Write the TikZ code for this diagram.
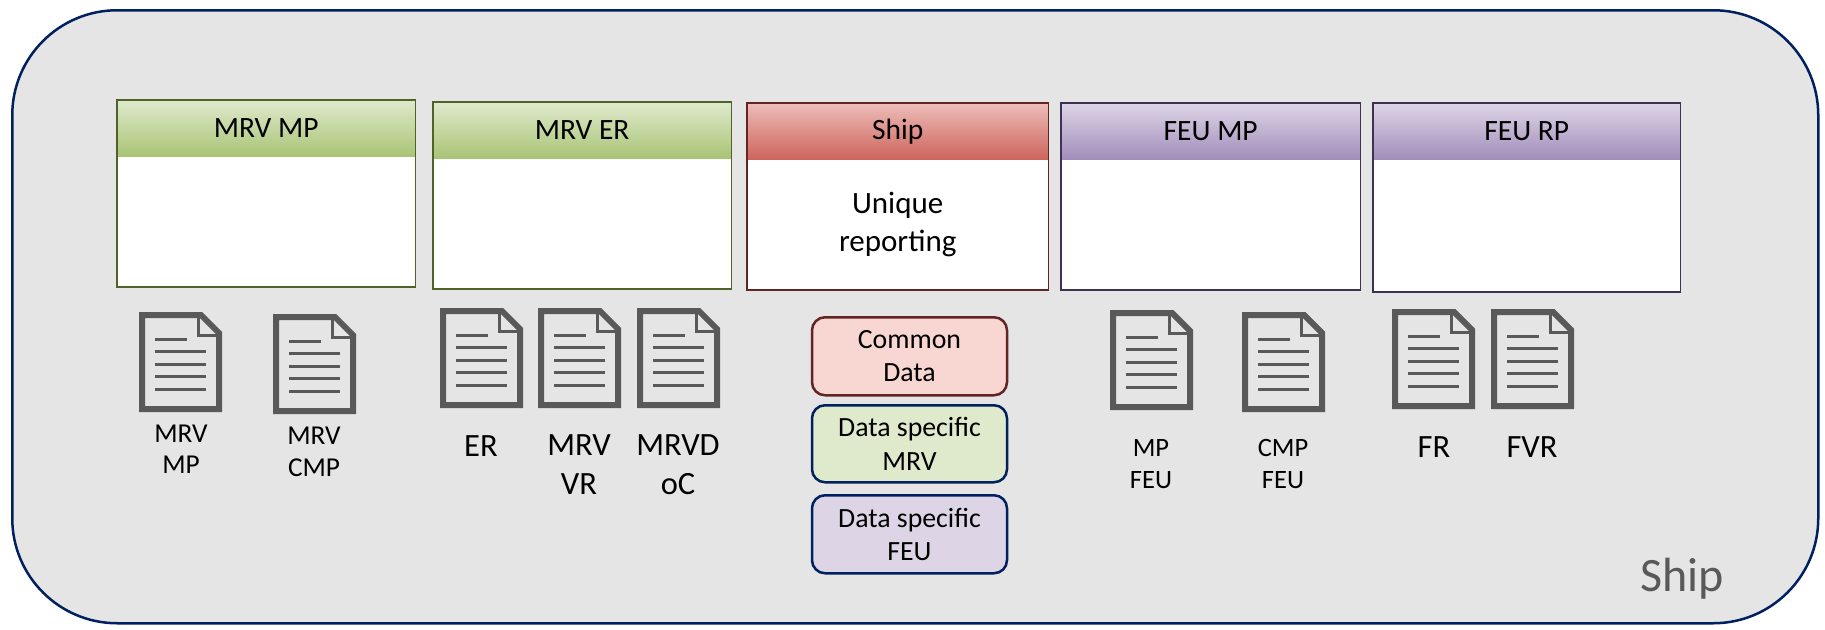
\documentclass[tikz,border=0pt]{standalone}
\usepackage{fontspec}
\setmainfont{Carlito}
\usetikzlibrary{positioning}
\usetikzlibrary{fit}
\definecolor{navyline}{HTML}{002060}
\definecolor{zonegray}{HTML}{E5E5E5}
\definecolor{icongray}{HTML}{595959}
\definecolor{greenline}{HTML}{4F6228}
\definecolor{greentop}{HTML}{DFE9CC}
\definecolor{greenbot}{HTML}{A9C475}
\definecolor{redline}{HTML}{632523}
\definecolor{redtop}{HTML}{EDBDB8}
\definecolor{redbot}{HTML}{CD645C}
\definecolor{redpale}{HTML}{F8D6D2}
\definecolor{purpleline}{HTML}{3F3151}
\definecolor{purpletop}{HTML}{DDD5E6}
\definecolor{purplebot}{HTML}{A28DBA}
\tikzset{
    zone/.style = {%
        shape=rectangle,
        draw=navyline,
        fill=zonegray,
        line width=2.5pt,
        rounded corners=105pt,
        inner sep=0pt},
    headbar/.style 2 args = {%
        shape=rectangle,
        top color=#1,
        bottom color=#2,
        inner sep=0pt,
        minimum height=56pt,
        align=center,
        font=\fontsize{29.5}{33}\selectfont},
    bodybox/.style = {%
        shape=rectangle,
        fill=white,
        inner sep=0pt,
        align=center,
        font=\fontsize{31}{38}\selectfont},
    frame/.style = {%
        shape=rectangle,
        draw=#1,
        line width=1.6pt,
        inner sep=0pt},
    pill/.style 2 args = {%
        shape=rectangle,
        rounded corners=13pt,
        draw=#1,
        fill=#2,
        line width=2.5pt,
        inner sep=0pt,
        minimum width=195pt,
        align=center,
        font=\fontsize{27.8}{33.5}\selectfont},
    doclabel/.style = {%
        inner sep=0pt,
        align=center,
        font=\fontsize{27.3}{31.5}\selectfont},
    doclabelbig/.style = {%
        inner sep=0pt,
        align=center,
        font=\fontsize{32.5}{39}\selectfont},
    doclabelsmall/.style = {%
        inner sep=0pt,
        align=center,
        font=\fontsize{26.5}{32}\selectfont},
    docicon/.pic = {
        \draw[icongray, line width=6pt, miter limit=4] (3,3) -- (62,3) -- (80,21) -- (80,97) -- (3,97) -- cycle;
        \draw[icongray, line width=3pt] (59,4) -- (59,23) -- (79,23);
        \foreach \y/\e in {27/48, 39.5/67, 52/67, 64.5/67, 77/67}
            \draw[icongray, line width=3pt] (16,\y) -- (\e,\y);
    },
}
\begin{document}
\begin{tikzpicture}[x=1pt, y=-1pt]
    \useasboundingbox (0,0) rectangle (1825,629);
    \node[zone, minimum width=1806pt, minimum height=613pt, anchor=north west] (shipzone) at (11,9) {};
    \node[text=icongray, inner sep=0pt, font=\fontsize{48}{50}\selectfont] (shiptag) at (1682,579) {Ship};

    % panels
    \node[headbar={greentop}{greenbot}, minimum width=298pt, anchor=north west] (mrvmphead) at (117,100) {MRV MP};
    \node[bodybox, minimum width=298pt, minimum height=130pt, below=0pt of mrvmphead] (mrvmpbody) {};
    \node[frame=greenline, fit=(mrvmphead)(mrvmpbody)] (mrvmpframe) {};

    \node[headbar={greentop}{greenbot}, minimum width=298pt, anchor=north west] (mrverhead) at (433,102) {MRV ER};
    \node[bodybox, minimum width=298pt, minimum height=130pt, below=0pt of mrverhead] (mrverbody) {};
    \node[frame=greenline, fit=(mrverhead)(mrverbody)] (mrverframe) {};

    \node[headbar={redtop}{redbot}, minimum width=301pt, anchor=north west] (shiphead) at (747,103) {Ship};
    \node[bodybox, minimum width=301pt, minimum height=130pt, below=0pt of shiphead] (shipbody) {Unique\\reporting};
    \node[frame=redline, fit=(shiphead)(shipbody)] (shipframe) {};

    \node[headbar={purpletop}{purplebot}, minimum width=299pt, anchor=north west] (feumphead) at (1061,103) {FEU MP};
    \node[bodybox, minimum width=299pt, minimum height=130pt, below=0pt of feumphead] (feumpbody) {};
    \node[frame=purpleline, fit=(feumphead)(feumpbody)] (feumpframe) {};

    \node[headbar={purpletop}{purplebot}, minimum width=307pt, anchor=north west] (feurphead) at (1373,103) {FEU RP};
    \node[bodybox, minimum width=307pt, minimum height=132pt, below=0pt of feurphead] (feurpbody) {};
    \node[frame=purpleline, fit=(feurphead)(feurpbody)] (feurpframe) {};

    % documents
    \foreach \x/\y in {139/312, 273/314, 440/308, 538/308, 637/308, 1110/310, 1242/312, 1392/309, 1491/309}
        \pic at (\x,\y) {docicon};

    \node[doclabel] (mrvmplabel) at (181,449) {MRV\\MP};
    \node[doclabel] (mrvcmplabel) at (314,452) {MRV\\CMP};
    \node[doclabelbig] (erlabel) at (481,446) {ER};
    \node[doclabelbig] (mrvvrlabel) at (579,465) {MRV\\VR};
    \node[doclabelbig] (mrvdoclabel) at (678,465) {MRVD\\oC};
    \node[doclabelsmall] (mpfeulabel) at (1151,464) {MP\\FEU};
    \node[doclabelsmall] (cmpfeulabel) at (1283,464) {CMP\\FEU};
    \node[doclabelbig] (frlabel) at (1434,447) {FR};
    \node[doclabelbig] (fvrlabel) at (1532,447) {FVR};

    % legend
    \node[pill={redline}{redpale}, minimum height=78pt, anchor=north] (commondata) at (909.5,316) {Common\\Data};
    \node[pill={navyline}{greentop}, minimum height=77pt, anchor=north] (specificmrv) at (909.5,404) {Data specific\\MRV};
    \node[pill={navyline}{purpletop}, minimum height=78pt, anchor=north] (specificfeu) at (909.5,494) {Data specific\\FEU};
\end{tikzpicture}
\end{document}
